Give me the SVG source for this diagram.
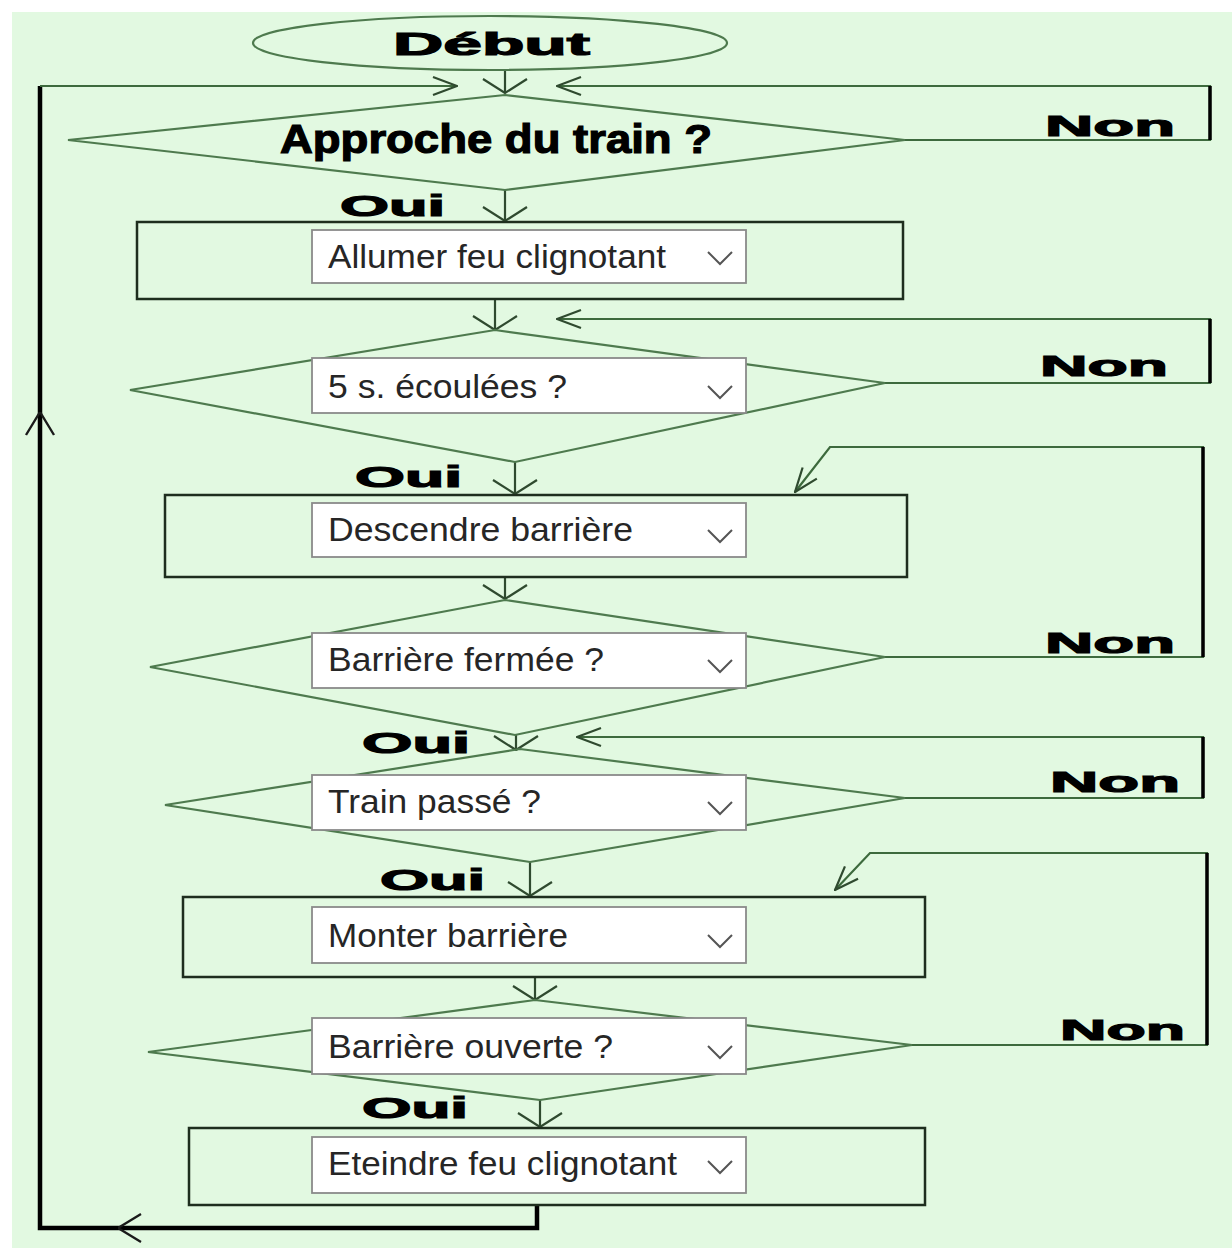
<svg xmlns="http://www.w3.org/2000/svg" width="1232" height="1248" viewBox="0 0 1232 1248">
  <style>
    .bg { fill: #e2f9e1; }
    .shape { fill: none; stroke: #4e7a4e; stroke-width: 2.2; }
    .box { fill: none; stroke: #1e2e1e; stroke-width: 2.5; }
    .field { fill: #ffffff; stroke: #8a8a8a; stroke-width: 1.8; }
    .chev { fill: none; stroke: #555555; stroke-width: 2; }
    .lbl { font-family: "Liberation Sans", Arial, sans-serif; font-size: 34px; fill: #262626; }
    .big { font-family: "Liberation Sans", Arial, sans-serif; font-weight: bold; fill: #000000; stroke: #000000; stroke-width: 1.2; }
    .flow { fill: none; stroke: #2f4a2f; stroke-width: 2.2; }
    .ret { fill: none; stroke: #3d6a3d; stroke-width: 2.2; }
    .post { fill: none; stroke: #000000; stroke-width: 3.5; }
    .loop { fill: none; stroke: #000000; stroke-width: 4.5; }
  </style>
  <defs>
    <marker id="down" markerUnits="userSpaceOnUse" viewBox="0 0 16 50" refX="15" refY="25" markerWidth="16" markerHeight="50" orient="auto">
      <path d="M1,3 L15,25 L1,47" fill="none" stroke="#2f4a2f" stroke-width="2.2"/>
    </marker>
    <marker id="side" markerUnits="userSpaceOnUse" viewBox="0 0 26 24" refX="25" refY="12" markerWidth="26" markerHeight="24" orient="auto">
      <path d="M1,3 L25,12 L1,21" fill="none" stroke="#2f4a2f" stroke-width="2.2"/>
    </marker>
    <marker id="blk" markerUnits="userSpaceOnUse" viewBox="0 0 26 34" refX="25" refY="17" markerWidth="26" markerHeight="34" orient="auto">
      <path d="M2,3 L25,17 L2,31" fill="none" stroke="#1a1a1a" stroke-width="2.4"/>
    </marker>
  </defs>

  <!-- canvas -->
  <rect x="0" y="0" width="1232" height="1248" fill="#ffffff"/>
  <rect class="bg" x="12" y="12" width="1220" height="1236"/>

  <!-- connectors -->
  <g id="connectors">
    <!-- main downward flow -->
    <path class="flow" d="M505,70 L505,93" marker-end="url(#down)"/>
    <path class="flow" d="M505,190 L505,221" marker-end="url(#down)"/>
    <path class="flow" d="M495,299 L495,330" marker-end="url(#down)"/>
    <path class="flow" d="M515,462 L515,494" marker-end="url(#down)"/>
    <path class="flow" d="M505,577 L505,599" marker-end="url(#down)"/>
    <path class="flow" d="M516,735 L516,750" marker-end="url(#down)"/>
    <path class="flow" d="M530,862 L530,896" marker-end="url(#down)"/>
    <path class="flow" d="M535,977 L535,1000" marker-end="url(#down)"/>
    <path class="flow" d="M540,1100 L540,1127" marker-end="url(#down)"/>

    <!-- "Non" return branches -->
    <path class="ret" d="M905,140 L1210,140 L1210,86 L557,86" marker-end="url(#side)"/>
    <path class="ret" d="M885,383 L1210,383 L1210,319 L557,319" marker-end="url(#side)"/>
    <path class="ret" d="M885,657 L1203,657 L1203,447 L830,447 L795,492" marker-end="url(#side)"/>
    <path class="ret" d="M905,798 L1203,798 L1203,737 L577,737" marker-end="url(#side)"/>
    <path class="ret" d="M912,1045 L1207,1045 L1207,853 L870,853 L835,890" marker-end="url(#side)"/>
    <path class="post" d="M1210,86 L1210,140 M1210,319 L1210,383 M1203,447 L1203,657 M1203,737 L1203,798 M1207,853 L1207,1045"/>

    <!-- loop back to the start -->
    <path class="loop" d="M537,1205 L537,1228 L118,1228" marker-end="url(#blk)"/>
    <path class="loop" d="M118,1228 L40,1228 L40,412" marker-end="url(#blk)"/>
    <path class="loop" d="M40,412 L40,86"/>
    <path class="ret" d="M40,86 L457,86" marker-end="url(#side)"/>
  </g>

  <!-- start -->
  <g id="debut">
    <ellipse class="shape" cx="490" cy="43" rx="237" ry="27"/>
    <text class="big" x="393" y="55" font-size="32" textLength="197" lengthAdjust="spacingAndGlyphs">Début</text>
  </g>

  <!-- decision: train approaching -->
  <g id="approche">
    <polygon class="shape" points="505,95 905,140 505,190 68,140"/>
    <text class="big" x="280" y="153" font-size="40" textLength="432" lengthAdjust="spacingAndGlyphs">Approche du train ?</text>
    <text class="big" x="340" y="216" font-size="30" textLength="105" lengthAdjust="spacingAndGlyphs">Oui</text>
    <text class="big" x="1045" y="136" font-size="30" textLength="130" lengthAdjust="spacingAndGlyphs">Non</text>
  </g>

  <!-- action: light on -->
  <g id="allumer">
    <rect class="box" x="137" y="222" width="766" height="77"/>
    <rect class="field" x="312" y="230" width="434" height="53"/>
    <text class="lbl" x="328" y="268" textLength="338" lengthAdjust="spacingAndGlyphs">Allumer feu clignotant</text>
    <path class="chev" d="M708,252 L720,264 L732,252"/>
  </g>

  <!-- decision: 5 s elapsed -->
  <g id="cinq">
    <polygon class="shape" points="495,330 885,383 515,462 130,390"/>
    <rect class="field" x="312" y="358" width="434" height="55"/>
    <text class="lbl" x="328" y="398" textLength="239" lengthAdjust="spacingAndGlyphs">5 s. écoulées ?</text>
    <path class="chev" d="M708,386 L720,398 L732,386"/>
    <text class="big" x="355" y="487" font-size="30" textLength="107" lengthAdjust="spacingAndGlyphs">Oui</text>
    <text class="big" x="1040" y="376" font-size="30" textLength="128" lengthAdjust="spacingAndGlyphs">Non</text>
  </g>

  <!-- action: lower barrier -->
  <g id="descendre">
    <rect class="box" x="165" y="495" width="742" height="82"/>
    <rect class="field" x="312" y="503" width="434" height="54"/>
    <text class="lbl" x="328" y="541" textLength="305" lengthAdjust="spacingAndGlyphs">Descendre barrière</text>
    <path class="chev" d="M708,530 L720,542 L732,530"/>
  </g>

  <!-- decision: barrier closed -->
  <g id="fermee">
    <polygon class="shape" points="505,600 885,657 515,735 150,667"/>
    <rect class="field" x="312" y="633" width="434" height="55"/>
    <text class="lbl" x="328" y="671" textLength="276" lengthAdjust="spacingAndGlyphs">Barrière fermée ?</text>
    <path class="chev" d="M708,660 L720,672 L732,660"/>
    <text class="big" x="362" y="753" font-size="30" textLength="108" lengthAdjust="spacingAndGlyphs">Oui</text>
    <text class="big" x="1045" y="653" font-size="30" textLength="130" lengthAdjust="spacingAndGlyphs">Non</text>
  </g>

  <!-- decision: train passed -->
  <g id="passe">
    <polygon class="shape" points="520,749 905,798 530,862 165,805"/>
    <rect class="field" x="312" y="775" width="434" height="55"/>
    <text class="lbl" x="328" y="813" textLength="213" lengthAdjust="spacingAndGlyphs">Train passé ?</text>
    <path class="chev" d="M708,802 L720,814 L732,802"/>
    <text class="big" x="380" y="890" font-size="30" textLength="105" lengthAdjust="spacingAndGlyphs">Oui</text>
    <text class="big" x="1050" y="792" font-size="30" textLength="130" lengthAdjust="spacingAndGlyphs">Non</text>
  </g>

  <!-- action: raise barrier -->
  <g id="monter">
    <rect class="box" x="183" y="897" width="742" height="80"/>
    <rect class="field" x="312" y="907" width="434" height="56"/>
    <text class="lbl" x="328" y="947" textLength="240" lengthAdjust="spacingAndGlyphs">Monter barrière</text>
    <path class="chev" d="M708,935 L720,947 L732,935"/>
  </g>

  <!-- decision: barrier open -->
  <g id="ouverte">
    <polygon class="shape" points="535,1000 912,1045 540,1100 148,1052"/>
    <rect class="field" x="312" y="1018" width="434" height="56"/>
    <text class="lbl" x="328" y="1058" textLength="285" lengthAdjust="spacingAndGlyphs">Barrière ouverte ?</text>
    <path class="chev" d="M708,1046 L720,1058 L732,1046"/>
    <text class="big" x="362" y="1118" font-size="30" textLength="106" lengthAdjust="spacingAndGlyphs">Oui</text>
    <text class="big" x="1060" y="1040" font-size="30" textLength="125" lengthAdjust="spacingAndGlyphs">Non</text>
  </g>

  <!-- action: light off -->
  <g id="eteindre">
    <rect class="box" x="189" y="1128" width="736" height="77"/>
    <rect class="field" x="312" y="1137" width="434" height="56"/>
    <text class="lbl" x="328" y="1175" textLength="349" lengthAdjust="spacingAndGlyphs">Eteindre feu clignotant</text>
    <path class="chev" d="M708,1161 L720,1173 L732,1161"/>
  </g>
</svg>
